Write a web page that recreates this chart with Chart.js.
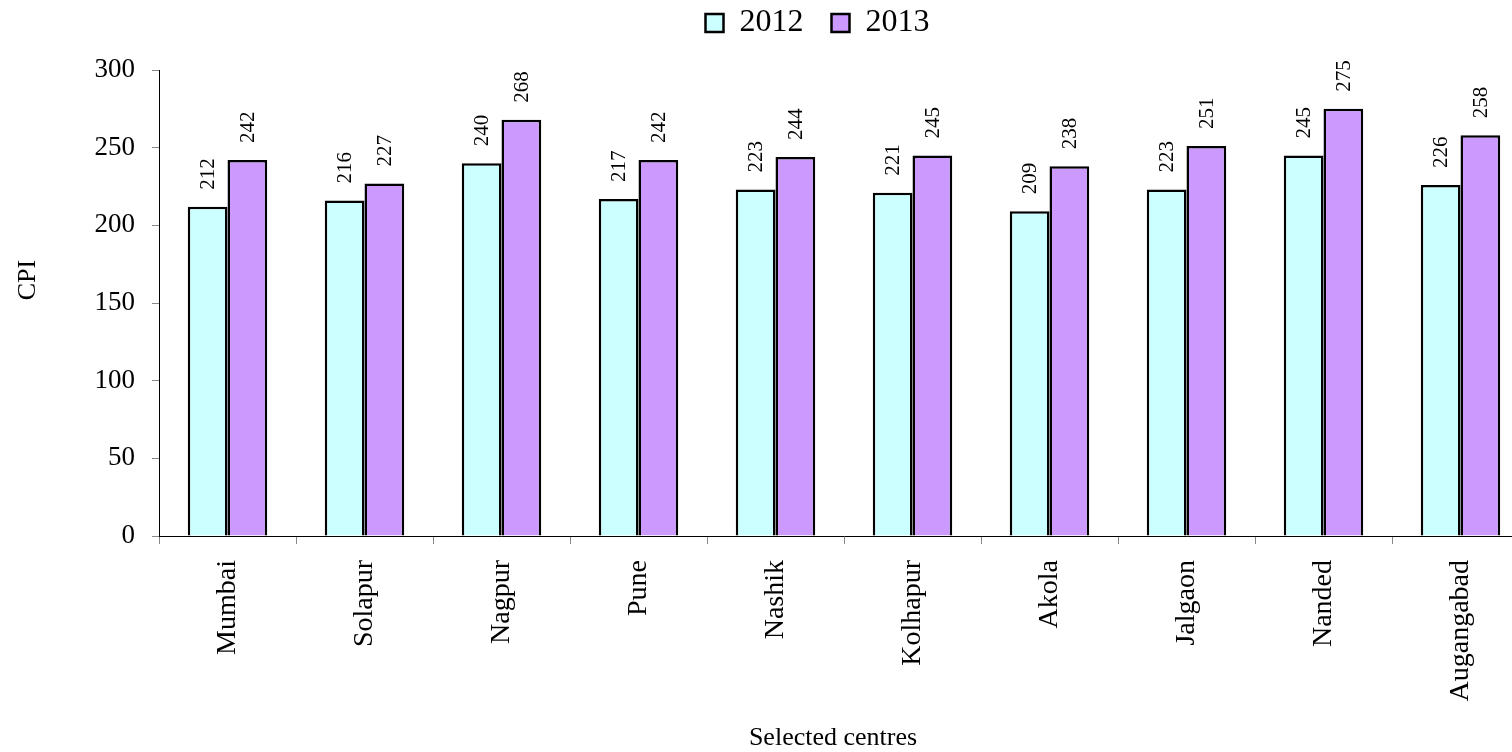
<!DOCTYPE html>
<html>
<head>
<meta charset="utf-8">
<script src="https://cdn.jsdelivr.net/npm/chart.js@4"></script>
<style>
  html, body { margin: 0; padding: 0; background: #fff; overflow: hidden; }
  #wrap { width: 1512px; height: 752px; overflow: hidden; }
</style>
</head>
<body>
<div id="wrap"><canvas id="cpiChart" width="1540" height="752"></canvas></div>
<script>
const centres = ['Mumbai', 'Solapur', 'Nagpur', 'Pune', 'Nashik', 'Kolhapur', 'Akola', 'Jalgaon', 'Nanded', 'Augangabad'];
const cpi2012 = [212, 216, 240, 217, 223, 221, 209, 223, 245, 226];
const cpi2013 = [242, 227, 268, 242, 244, 245, 238, 251, 275, 258];
const yTicks = [0, 50, 100, 150, 200, 250, 300];
const yTitle = 'CPI';
const xTitle = 'Selected centres';

const serif = 'Liberation Serif, Times New Roman, serif';

// value labels written upright above every bar
const barValues = {
    id: 'barValues',
    afterDatasetsDraw(chart) {
        const ctx = chart.ctx;
        ctx.save();
        ctx.font = '21px ' + serif;
        ctx.fillStyle = '#000';
        ctx.textAlign = 'left';
        ctx.textBaseline = 'middle';
        chart.data.datasets.forEach((ds, i) => {
            chart.getDatasetMeta(i).data.forEach((bar, j) => {
                ctx.save();
                ctx.translate(bar.x + 1, bar.y - 17);
                ctx.rotate(-Math.PI / 2);
                ctx.fillText(String(ds.data[j]), 0, 0);
                ctx.restore();
            });
        });
        ctx.restore();
    }
};

// the original puts both axis titles a little off the middle of the plot
const axisTitles = {
    id: 'axisTitles',
    afterDraw(chart) {
        const { ctx, chartArea } = chart;
        ctx.save();
        ctx.font = '26px ' + serif;
        ctx.fillStyle = '#000';
        ctx.textAlign = 'center';
        ctx.textBaseline = 'middle';

        ctx.fillText(xTitle, (chartArea.left + chartArea.right) / 2 - 11, 738);

        ctx.translate(28, (chartArea.top + chartArea.bottom) / 2 - 23);
        ctx.rotate(-Math.PI / 2);
        ctx.fillText(yTitle, 0, 0);
        ctx.restore();
    }
};

// legend sits higher and a bit right of the middle in the original
const legendShift = {
    id: 'legendShift',
    afterLayout(chart) {
        chart.legend.left += 53;
        chart.legend.right += 53;
        chart.legend.top -= 21;
        chart.legend.bottom -= 21;
    }
};

new Chart(document.getElementById('cpiChart'), {
    type: 'bar',
    data: {
        labels: centres,
        datasets: [
            {
                label: '2012',
                data: cpi2012,
                backgroundColor: '#CCFFFF',
                borderColor: '#000',
                borderWidth: 2.5
            },
            {
                label: '2013',
                data: cpi2013,
                backgroundColor: '#CC99FF',
                borderColor: '#000',
                borderWidth: 2.5
            }
        ]
    },
    options: {
        responsive: false,
        animation: false,
        layout: { padding: { left: 0, right: 11, top: 0, bottom: 0 } },
        categoryPercentage: 0.58,
        barPercentage: 1.0,
        plugins: {
            legend: {
                position: 'top',
                labels: {
                    color: '#000',
                    font: { family: serif, size: 32 },
                    boxWidth: 18,
                    boxHeight: 18,
                    padding: 28
                }
            },
            tooltip: { enabled: false }
        },
        scales: {
            x: {
                grid: {
                    drawOnChartArea: false,
                    color: '#888',
                    tickLength: 8,
                    offset: true
                },
                border: { color: '#000', width: 1 },
                ticks: {
                    color: '#000',
                    font: { family: serif, size: 28 },
                    minRotation: 90,
                    maxRotation: 90,
                    padding: 16,
                    autoSkip: false
                },
                afterFit(scale) { scale.height = 216; }
            },
            y: {
                min: 0,
                max: 300,
                grid: {
                    drawOnChartArea: false,
                    color: '#888',
                    tickLength: 7
                },
                border: { color: '#000', width: 1 },
                afterBuildTicks(scale) {
                    scale.ticks = yTicks.map(v => ({ value: v }));
                },
                ticks: {
                    color: '#000',
                    font: { family: serif, size: 27 },
                    padding: 17
                },
                afterFit(scale) { scale.width = 159; }
            }
        }
    },
    plugins: [barValues, axisTitles, legendShift]
});
</script>
</body>
</html>
